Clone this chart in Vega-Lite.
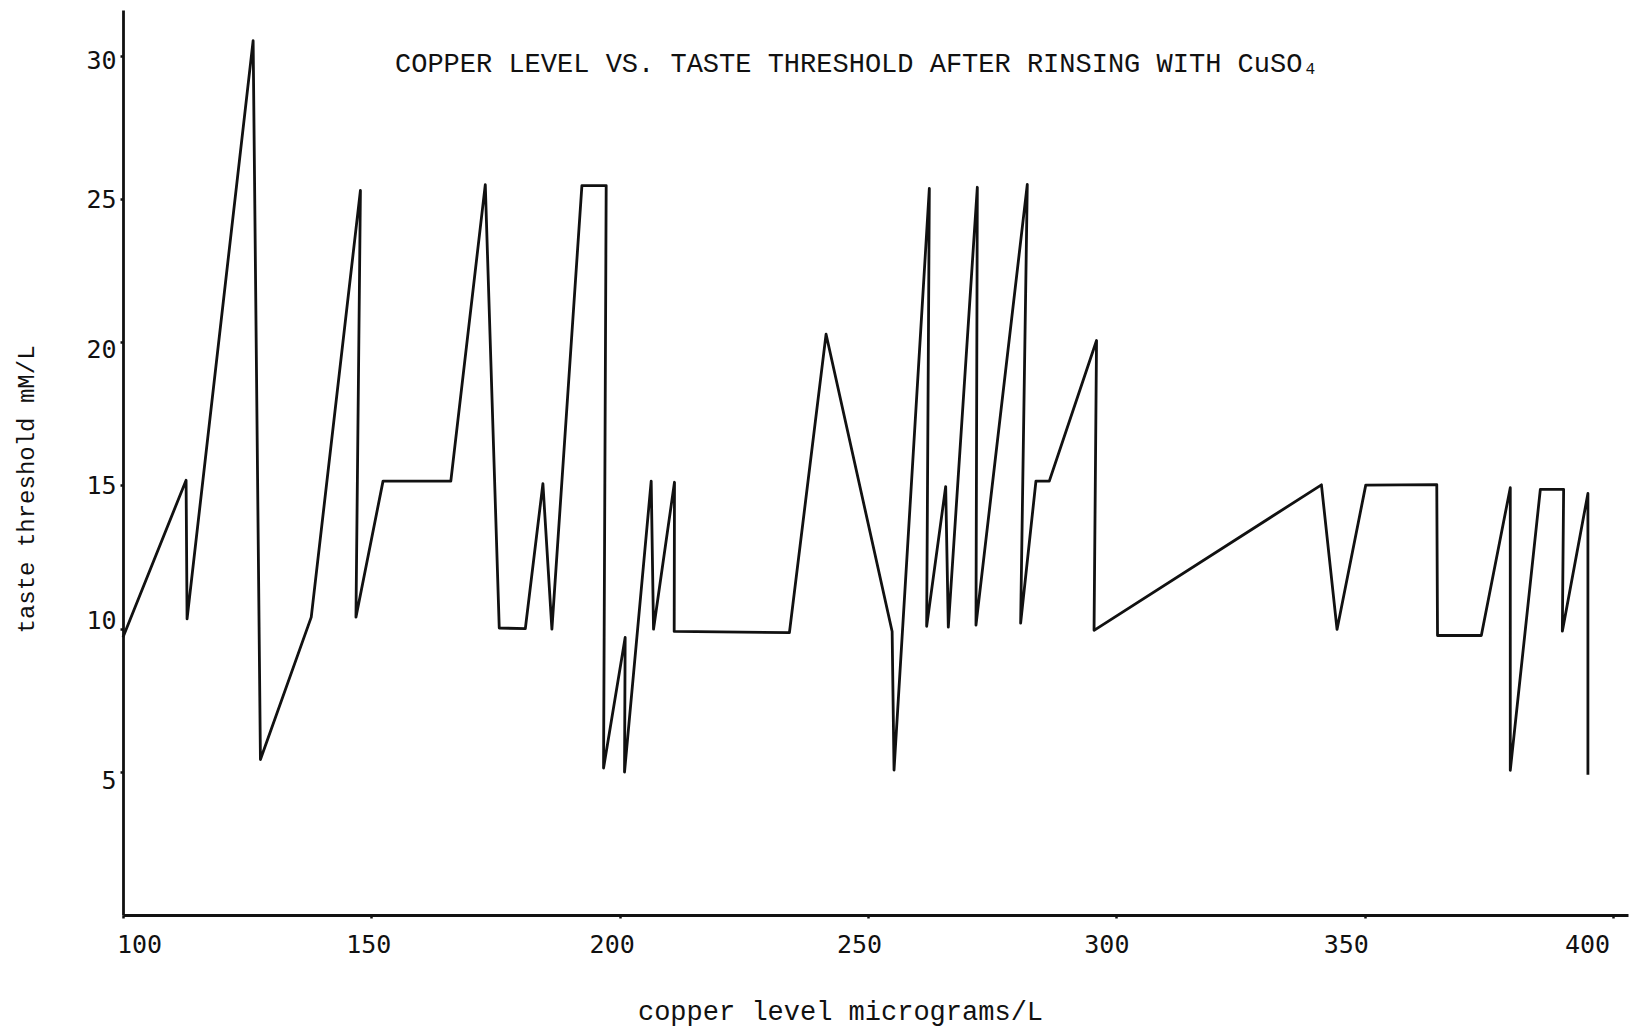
{
  "$schema": "https://vega.github.io/schema/vega-lite/v6.json",
  "width": 1505,
  "height": 905,
  "autosize": {"type": "none"},
  "padding": {"left": 123, "top": 10, "right": 8, "bottom": 116},
  "background": "white",
  "config": {"view": {"stroke": null}},
  "title": {
    "text": "COPPER LEVEL VS. TASTE THRESHOLD AFTER RINSING WITH CuSO₄",
    "anchor": "start",
    "frame": "group",
    "orient": "top",
    "offset": 0,
    "dx": 272,
    "dy": 89,
    "baseline": "alphabetic",
    "font": "Liberation Mono",
    "fontSize": 27,
    "fontWeight": "normal",
    "color": "#111111"
  },
  "data": {
    "values": [
      {"copper": 100.0, "threshold": 9.7},
      {"copper": 112.7, "threshold": 15.18},
      {"copper": 112.9, "threshold": 10.34},
      {"copper": 126.2, "threshold": 30.53},
      {"copper": 127.67, "threshold": 5.43},
      {"copper": 137.9, "threshold": 10.4},
      {"copper": 147.8, "threshold": 25.3},
      {"copper": 146.9, "threshold": 10.4},
      {"copper": 152.35, "threshold": 15.15},
      {"copper": 166.0, "threshold": 15.15},
      {"copper": 172.94, "threshold": 25.5},
      {"copper": 175.75, "threshold": 10.02},
      {"copper": 181.0, "threshold": 10.0},
      {"copper": 184.54, "threshold": 15.06},
      {"copper": 186.35, "threshold": 9.98},
      {"copper": 192.39, "threshold": 25.47},
      {"copper": 197.28, "threshold": 25.47},
      {"copper": 196.75, "threshold": 5.13},
      {"copper": 201.1, "threshold": 9.69},
      {"copper": 200.97, "threshold": 4.99},
      {"copper": 206.34, "threshold": 15.15},
      {"copper": 206.81, "threshold": 9.98},
      {"copper": 211.03, "threshold": 15.11},
      {"copper": 210.97, "threshold": 9.9},
      {"copper": 234.17, "threshold": 9.86},
      {"copper": 241.55, "threshold": 20.28},
      {"copper": 254.85, "threshold": 9.9},
      {"copper": 255.23, "threshold": 5.06},
      {"copper": 262.34, "threshold": 25.37},
      {"copper": 261.8, "threshold": 10.08},
      {"copper": 265.63, "threshold": 14.96},
      {"copper": 266.16, "threshold": 10.05},
      {"copper": 272.0, "threshold": 25.41},
      {"copper": 271.73, "threshold": 10.12},
      {"copper": 282.06, "threshold": 25.51},
      {"copper": 280.72, "threshold": 10.19},
      {"copper": 283.8, "threshold": 15.15},
      {"copper": 286.49, "threshold": 15.15},
      {"copper": 296.0, "threshold": 20.06},
      {"copper": 295.5, "threshold": 9.94},
      {"copper": 341.28, "threshold": 15.02},
      {"copper": 344.42, "threshold": 9.97},
      {"copper": 350.2, "threshold": 15.01},
      {"copper": 364.5, "threshold": 15.03},
      {"copper": 364.65, "threshold": 9.76},
      {"copper": 373.47, "threshold": 9.76},
      {"copper": 379.3, "threshold": 14.92},
      {"copper": 379.3, "threshold": 5.05},
      {"copper": 385.35, "threshold": 14.86},
      {"copper": 390.04, "threshold": 14.86},
      {"copper": 389.78, "threshold": 9.91},
      {"copper": 394.93, "threshold": 14.72},
      {"copper": 394.93, "threshold": 4.9}
    ]
  },
  "mark": {"type": "line", "color": "#111111", "strokeWidth": 2.8, "strokeJoin": "round"},
  "encoding": {
    "x": {
      "field": "copper",
      "type": "quantitative",
      "scale": {"domain": [100, 403], "nice": false, "zero": false},
      "axis": {
        "values": [100, 150, 200, 250, 300, 350, 400],
        "grid": false,
        "domainColor": "#111111",
        "domainWidth": 2.8,
        "tickColor": "#111111",
        "tickSize": 3,
        "tickWidth": 2.5,
        "labelFont": "DejaVu Sans Mono",
        "labelFontSize": 25,
        "labelColor": "#111111",
        "labelPadding": 14,
        "labelFlush": false,
        "labelOverlap": false,
        "labelOffset": {
          "condition": [
            {"test": "datum.value == 100", "value": 16},
            {"test": "datum.value == 150", "value": -3},
            {"test": "datum.value == 200", "value": -8},
            {"test": "datum.value == 250", "value": -9},
            {"test": "datum.value == 300", "value": -10},
            {"test": "datum.value == 350", "value": -19}
          ],
          "value": -26
        },
        "title": "copper level micrograms/L",
        "titleFont": "Liberation Mono",
        "titleFontSize": 27,
        "titleFontWeight": "normal",
        "titleColor": "#111111",
        "titleX": 717,
        "titleY": 104,
        "titleBaseline": "alphabetic"
      }
    },
    "y": {
      "field": "threshold",
      "type": "quantitative",
      "scale": {"domain": [0, 31.6], "nice": false, "zero": true},
      "axis": {
        "values": [5, 10, 15, 20, 25, 30],
        "grid": false,
        "domainColor": "#111111",
        "domainWidth": 2.8,
        "tickColor": "#111111",
        "tickSize": 3,
        "tickWidth": 2.5,
        "labelFont": "DejaVu Sans Mono",
        "labelFontSize": 25,
        "labelColor": "#111111",
        "labelPadding": 4,
        "labelOverlap": false,
        "labelOffset": {
          "condition": [
            {"test": "datum.value == 30", "value": 5},
            {"test": "datum.value == 20", "value": 7},
            {"test": "datum.value == 10", "value": -8},
            {"test": "datum.value == 5", "value": 9}
          ],
          "value": 0
        },
        "title": "taste threshold mM/L",
        "titleFont": "Liberation Mono",
        "titleFontSize": 24,
        "titleFontWeight": "normal",
        "titleColor": "#111111",
        "titleX": -90,
        "titleY": 479,
        "titleBaseline": "alphabetic"
      }
    },
    "order": {"value": null}
  }
}
